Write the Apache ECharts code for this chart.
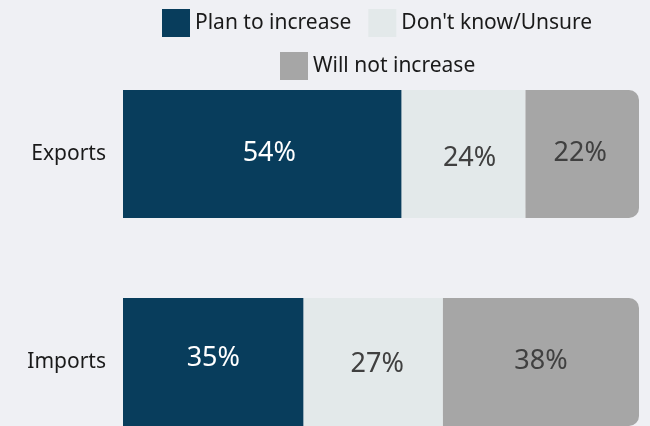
<!DOCTYPE html>
<html>
<head>
<meta charset="utf-8">
<script src="https://cdn.jsdelivr.net/npm/echarts@6/dist/echarts.min.js"></script>
<style>
html,body{margin:0;padding:0;background:#eff0f4;}
#c{width:650px;height:426px;}
</style>
</head>
<body>
<div id="c"></div>
<script>
const categories = ['Exports', 'Imports'];
const planToIncrease = [54, 35];
const dontKnow = [24, 27];
const willNotIncrease = [22, 38];
const seriesNames = ['Plan to increase', "Don't know/Unsure", 'Will not increase'];

const FONT = '"Noto Sans", "Open Sans", sans-serif';
const colors = ['#083d5c', '#e3e9ea', '#a6a6a6'];
const labelColors = ['#ffffff', '#404040', '#404040'];
// small per-label nudges seen in the reference
const nudges = [
  [[7, -1], [0, -4]],
  [[6, 4], [4, 2]],
  [[-2, -1], [0, -1]]
];

const chart = echarts.init(document.getElementById('c'));
const values = [planToIncrease, dontKnow, willNotIncrease];

const series = values.map((arr, si) => ({
  name: seriesNames[si],
  type: 'bar',
  stack: 'total',
  barWidth: 128,
  itemStyle: {
    color: colors[si],
    borderRadius: si === 2 ? [0, 10, 10, 0] : 0
  },
  label: {
    show: true,
    position: 'inside',
    formatter: '{c}%',
    color: labelColors[si],
    fontFamily: FONT,
    fontSize: 27
  },
  data: arr.map((v, i) => ({ value: v, label: { offset: nudges[si][i] } }))
}));

const legendText = { fontFamily: FONT, fontSize: 21, color: '#1a1a1a' };

chart.setOption({
  backgroundColor: '#eff0f4',
  animation: false,
  legend: [
    {
      data: [seriesNames[0], seriesNames[1]],
      left: 162, top: 9, padding: 0,
      itemWidth: 28, itemHeight: 28, itemGap: 17,
      icon: 'rect',
      textStyle: legendText,
      selectedMode: false
    },
    {
      data: [seriesNames[2]],
      left: 280, top: 52, padding: 0,
      itemWidth: 28, itemHeight: 28,
      icon: 'rect',
      textStyle: legendText,
      selectedMode: false
    }
  ],
  grid: { left: 123, right: 11, top: 154, height: 208, containLabel: false },
  xAxis: {
    type: 'value', min: 0, max: 100, show: false
  },
  yAxis: {
    type: 'category',
    data: categories,
    inverse: true,
    boundaryGap: false,
    axisLine: { show: false },
    axisTick: { show: false },
    splitLine: { show: false },
    axisLabel: { margin: 17, fontFamily: FONT, fontSize: 21, color: '#1a1a1a' }
  },
  series: series
});
</script>
</body>
</html>
